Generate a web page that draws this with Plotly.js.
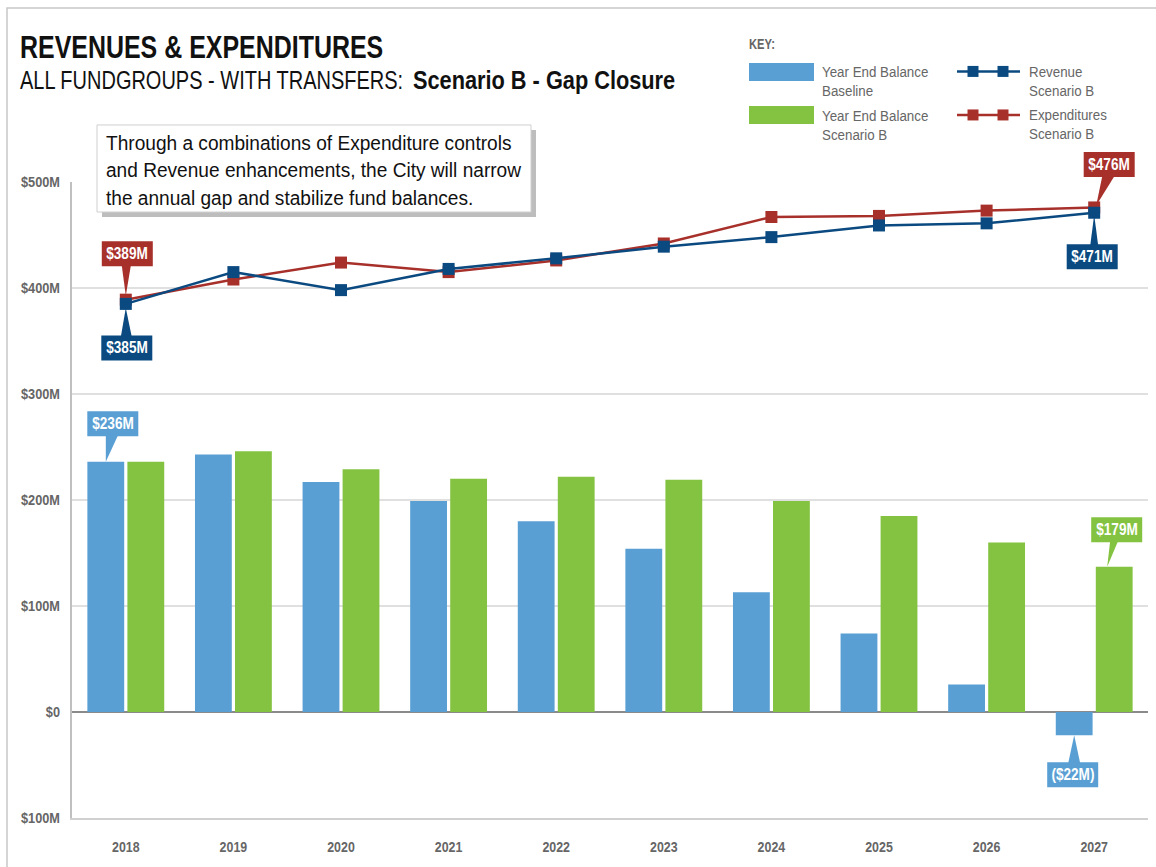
<!DOCTYPE html>
<html>
<head>
<meta charset="utf-8">
<script src="https://cdn.plot.ly/plotly-3.0.1.min.js"></script>
<style>
  html, body { margin: 0; padding: 0; background: #fff; }
  #chart { width: 1156px; height: 867px; }
</style>
</head>
<body>
<div id="chart"></div>
<script>
// ---- data ----
const years = ['2018', '2019', '2020', '2021', '2022', '2023', '2024', '2025', '2026', '2027'];
const baselineBalance = [236, 243, 217, 199, 180, 154, 113, 74, 26, -22];
const scenarioBBalance = [236, 246, 229, 220, 222, 219, 199, 185, 160, 137];
const revenueB = [385, 415, 398, 418, 428, 439, 448, 459, 461, 471];
const expendituresB = [389, 408, 424, 415, 426, 442, 467, 468, 473, 476];
const yTickVals = [-100, 0, 100, 200, 300, 400, 500];
const yTickText = ['$100M', '$0', '$100M', '$200M', '$300M', '$400M', '$500M'];
const seriesNames = ['Year End Balance<br>Baseline', 'Year End Balance<br>Scenario B', 'Revenue<br>Scenario B', 'Expenditures<br>Scenario B'];
const calloutText = ['$389M', '$385M', '$476M', '$471M', '$236M', '$179M', '($22M)'];
const titleText = 'REVENUES & EXPENDITURES';
const subtitleLead = 'ALL FUNDGROUPS - WITH TRANSFERS:';
const subtitleScenario = 'Scenario B - Gap Closure';
const noteText = 'Through a combinations of Expenditure controls<br>and Revenue enhancements, the City will narrow<br>the annual gap and stabilize fund balances.';

// ---- style ----
const FONT = "'Liberation Sans', Arial, sans-serif";
const C_BLUE = '#5a9fd4', C_GREEN = '#84c341', C_NAVY = '#0b4a80', C_RED = '#a8302b', C_GRAY = '#666666';

const PL = 72, PR = 8, PT = 182, PB = 49.4, W = 1156, H = 867;
const PW = W - PL - PR, PH = H - PT - PB;
const px = p => (p - PL) / PW;
const py = p => (PT + PH - p) / PH;
const Y_RANGE = [-100, 500];
const X_RANGE = [-0.5, years.length - 0.5];
// axis value -> paper fraction (same linear mapping the axes use), so callouts are not clipped by the plot area
const xPaper = i => (i - X_RANGE[0]) / (X_RANGE[1] - X_RANGE[0]);
const yPaper = v => (v - Y_RANGE[0]) / (Y_RANGE[1] - Y_RANGE[0]);

const traces = [
  { type: 'bar', x: years, y: baselineBalance, name: seriesNames[0], marker: { color: C_BLUE } },
  { type: 'bar', x: years, y: scenarioBBalance, name: seriesNames[1], marker: { color: C_GREEN } },
  { type: 'scatter', mode: 'lines+markers', x: years, y: expendituresB, name: seriesNames[3],
    line: { color: C_RED, width: 2.5 }, marker: { symbol: 'square', size: 12, color: C_RED }, cliponaxis: false },
  { type: 'scatter', mode: 'lines+markers', x: years, y: revenueB, name: seriesNames[2],
    line: { color: C_NAVY, width: 2.5 }, marker: { symbol: 'square', size: 12, color: C_NAVY }, cliponaxis: false }
];

const shapes = [];
const annotations = [];
const annK = [];   // horizontal condensing factor per annotation (emulates the condensed typeface)
function addAnn(a, k) { annotations.push(a); annK.push(k); }

// outer frame
shapes.push({ type: 'rect', xref: 'paper', yref: 'paper', x0: px(7), x1: px(1175), y0: py(8), y1: py(890),
  line: { color: '#c8c8c8', width: 1.5 }, fillcolor: 'rgba(0,0,0,0)', layer: 'below' });

// note box with shadow
shapes.push({ type: 'rect', xref: 'paper', yref: 'paper', x0: px(102), x1: px(536), y0: py(130), y1: py(217),
  line: { width: 0 }, fillcolor: '#bdbdbd', layer: 'above' });
shapes.push({ type: 'rect', xref: 'paper', yref: 'paper', x0: px(97), x1: px(531), y0: py(125), y1: py(212),
  line: { color: '#cfcfcf', width: 1 }, fillcolor: '#ffffff', layer: 'above' });
addAnn({ xref: 'paper', yref: 'paper', x: px(104), y: py(170), xanchor: 'left', yanchor: 'middle',
  align: 'left', showarrow: false, text: noteText, font: { family: FONT, size: 21, color: '#111' } }, 0.91);

// titles
addAnn({ xref: 'paper', yref: 'paper', x: px(18), y: py(47), xanchor: 'left', yanchor: 'middle', align: 'left',
  showarrow: false, text: '<b>' + titleText + '</b>', font: { family: FONT, size: 32, color: '#111' } }, 0.78);
addAnn({ xref: 'paper', yref: 'paper', x: px(18), y: py(80), xanchor: 'left', yanchor: 'middle', align: 'left',
  showarrow: false, text: subtitleLead, font: { family: FONT, size: 25, color: '#111' } }, 0.8);
addAnn({ xref: 'paper', yref: 'paper', x: px(411), y: py(80), xanchor: 'left', yanchor: 'middle', align: 'left',
  showarrow: false, text: '<b>' + subtitleScenario + '</b>', font: { family: FONT, size: 25, color: '#111' } }, 0.87);

// key
addAnn({ xref: 'paper', yref: 'paper', x: px(747), y: py(44), xanchor: 'left', yanchor: 'middle', align: 'left',
  showarrow: false, text: '<b>KEY:</b>', font: { family: FONT, size: 14, color: C_GRAY } }, 0.8);
shapes.push({ type: 'rect', xref: 'paper', yref: 'paper', x0: px(749), x1: px(814), y0: py(63), y1: py(81),
  line: { width: 0 }, fillcolor: C_BLUE });
shapes.push({ type: 'rect', xref: 'paper', yref: 'paper', x0: px(749), x1: px(814), y0: py(106), y1: py(124),
  line: { width: 0 }, fillcolor: C_GREEN });
[[C_NAVY, 71.5], [C_RED, 115]].forEach(([c, yy]) => {
  shapes.push({ type: 'line', xref: 'paper', yref: 'paper', x0: px(957), x1: px(1020), y0: py(yy), y1: py(yy),
    line: { color: c, width: 2.5 } });
  [973, 1003].forEach(cx => {
    shapes.push({ type: 'rect', xref: 'paper', yref: 'paper', x0: px(cx - 5.5), x1: px(cx + 5.5), y0: py(yy - 5.5), y1: py(yy + 5.5),
      line: { width: 0 }, fillcolor: c });
  });
});
[[seriesNames[0], 820, 82], [seriesNames[1], 820, 125.5], [seriesNames[2], 1027, 81.5], [seriesNames[3], 1027, 125]].forEach(([t, x, y]) => {
  addAnn({ xref: 'paper', yref: 'paper', x: px(x), y: py(y), xanchor: 'left', yanchor: 'middle',
    align: 'left', showarrow: false, text: t, font: { family: FONT, size: 15, color: C_GRAY } }, 0.89);
});

// callouts: [text, category index, value, color, xshift, yshift, pointer path (px offsets from the point, y up)]
const callouts = [
  [calloutText[0], 0, expendituresB[0], C_RED, 1.5, 46, 'M 0,4 L -4,34 L 5,34 Z'],
  [calloutText[1], 0, revenueB[0], C_NAVY, 1, -44, 'M 0,-4 L -5,-33 L 6,-33 Z'],
  [calloutText[2], 9, expendituresB[9], C_RED, 15, 43, 'M 2,2 L 8,31 L 20,31 Z'],
  [calloutText[3], 9, revenueB[9], C_NAVY, -2, -44, 'M 0,-2 L -4,-33 L 4,-33 Z'],
  [calloutText[4], 0, baselineBalance[0], C_BLUE, -13, 38, 'M -20,0 L -20,26 L -8,26 Z'],
  [calloutText[5], 9, scenarioBBalance[9], C_GREEN, 22.5, 37, 'M 13,0 L 16,26 L 24,26 Z'],
  [calloutText[6], 9, baselineBalance[9], C_BLUE, -21.5, -39.5, 'M -20,0 L -26,-28 L -14,-28 Z']
];
const BOX_HW = 25.5, BOX_HH = 12.5;
callouts.forEach(([t, i, v, c, xs, ys, path]) => {
  const ax = xPaper(i), ay = yPaper(v);
  shapes.push({ type: 'path', xref: 'paper', yref: 'paper', xsizemode: 'pixel', ysizemode: 'pixel',
    xanchor: ax, yanchor: ay, path: path, fillcolor: c, line: { width: 0 }, layer: 'above' });
  shapes.push({ type: 'rect', xref: 'paper', yref: 'paper', xsizemode: 'pixel', ysizemode: 'pixel',
    xanchor: ax, yanchor: ay, x0: xs - BOX_HW, x1: xs + BOX_HW, y0: ys - BOX_HH, y1: ys + BOX_HH,
    fillcolor: c, line: { width: 0 }, layer: 'above' });
  addAnn({ xref: 'paper', yref: 'paper', x: ax, y: ay, xshift: xs, yshift: ys, showarrow: false,
    xanchor: 'center', yanchor: 'middle',
    text: '<b>' + t + '</b>', font: { family: FONT, size: 17, color: '#ffffff' } }, 0.8);
});

const layout = {
  width: W, height: H, autosize: false,
  margin: { l: PL, r: PR, t: PT, b: PB, pad: 0 },
  paper_bgcolor: '#ffffff', plot_bgcolor: '#ffffff',
  showlegend: false,
  barmode: 'group', bargap: 0.256, bargroupgap: 0.08,
  font: { family: FONT, color: C_GRAY },
  xaxis: {
    type: 'category', range: X_RANGE, autorange: false, showgrid: false, zeroline: false,
    showline: true, linecolor: '#d0d0d0', linewidth: 1.5,
    ticks: '', ticklabelstandoff: 14,
    tickfont: { family: FONT, size: 15.5, color: C_GRAY, weight: 'bold' }
  },
  yaxis: {
    range: Y_RANGE, autorange: false, tickvals: yTickVals, ticktext: yTickText,
    showgrid: true, gridcolor: '#e0e0e0', gridwidth: 1.5,
    zeroline: true, zerolinecolor: '#8a8a8a', zerolinewidth: 2,
    showline: true, linecolor: '#c0c0c0', linewidth: 2,
    ticks: '', ticklabelstandoff: 7,
    tickfont: { family: FONT, size: 15, color: C_GRAY, weight: 'bold' }
  },
  shapes: shapes,
  annotations: annotations
};

// squeeze glyphs horizontally about the text anchor to imitate the chart's condensed typeface
function condense(el, k) {
  const x = parseFloat(el.getAttribute('x')) || 0;
  const prev = el.getAttribute('transform') || '';
  el.setAttribute('transform', (prev + ' matrix(' + k + ',0,0,1,' + (x * (1 - k)).toFixed(3) + ',0)').trim());
}

Plotly.newPlot('chart', traces, layout, { displayModeBar: false, staticPlot: true }).then(gd => {
  gd.querySelectorAll('g.annotation').forEach(g => {
    const i = +g.getAttribute('data-index');
    const t = g.querySelector('text');
    if (t && annK[i]) condense(t, annK[i]);
  });
  gd.querySelectorAll('g.xtick text').forEach(t => condense(t, 0.8));
  gd.querySelectorAll('g.ytick text').forEach(t => condense(t, 0.85));
});
</script>
</body>
</html>
